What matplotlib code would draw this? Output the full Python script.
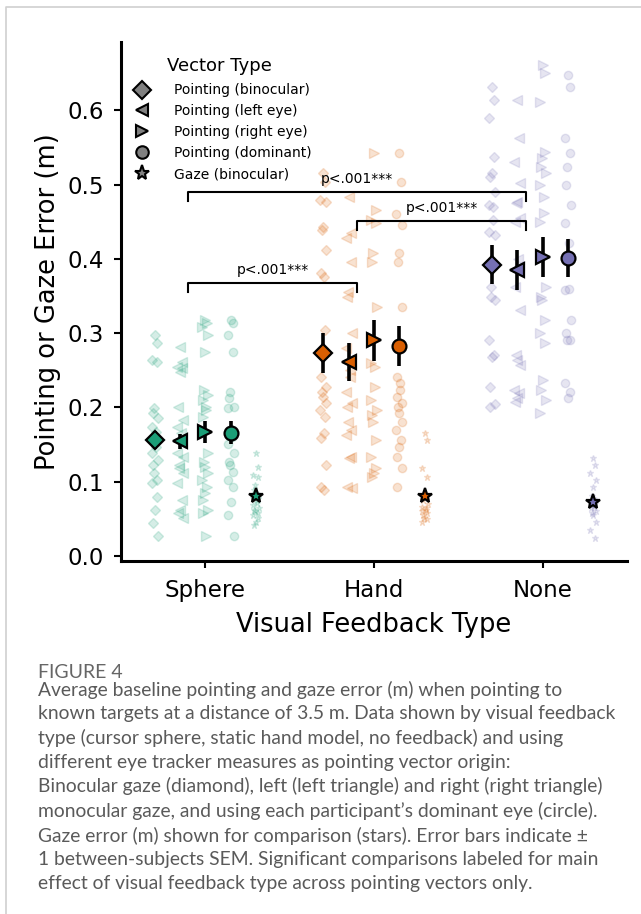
import numpy as np
import matplotlib.pyplot as plt
from matplotlib.lines import Line2D

plt.rcParams['font.family'] = 'DejaVu Sans'

# ---- data ----
feedback = ['Sphere', 'Hand', 'None']
vectors = ['Pointing (binocular)', 'Pointing (left eye)', 'Pointing (right eye)',
           'Pointing (dominant)', 'Gaze (binocular)']

# individual participants, one list per vector type
sphere_pts = [
    [0.297, 0.287, 0.264, 0.261, 0.199, 0.192, 0.186, 0.174, 0.167, 0.147, 0.139, 0.129, 0.122, 0.112, 0.102, 0.098, 0.079, 0.062, 0.044, 0.026],
    [0.281, 0.261, 0.254, 0.253, 0.248, 0.201, 0.183, 0.174, 0.165, 0.152, 0.139, 0.133, 0.122, 0.118, 0.112, 0.098, 0.075, 0.062, 0.058, 0.051],
    [0.318, 0.313, 0.308, 0.297, 0.275, 0.223, 0.217, 0.210, 0.201, 0.196, 0.187, 0.139, 0.127, 0.120, 0.112, 0.102, 0.093, 0.085, 0.075, 0.062, 0.058, 0.026],
    [0.318, 0.313, 0.297, 0.275, 0.221, 0.213, 0.201, 0.199, 0.170, 0.160, 0.150, 0.139, 0.127, 0.122, 0.113, 0.102, 0.093, 0.073, 0.055, 0.026],
    [0.139, 0.120, 0.109, 0.106, 0.095, 0.088, 0.082, 0.078, 0.075, 0.071, 0.068, 0.065, 0.062, 0.060, 0.058, 0.055, 0.051, 0.046, 0.042],
]
hand_pts = [
    [0.515, 0.503, 0.479, 0.476, 0.443, 0.439, 0.412, 0.381, 0.376, 0.304, 0.241, 0.227, 0.221, 0.214, 0.206, 0.196, 0.187, 0.166, 0.159, 0.122, 0.093, 0.089],
    [0.483, 0.435, 0.428, 0.396, 0.355, 0.349, 0.300, 0.280, 0.250, 0.241, 0.220, 0.206, 0.201, 0.180, 0.170, 0.163, 0.133, 0.132, 0.093, 0.091],
    [0.542, 0.466, 0.452, 0.448, 0.408, 0.396, 0.335, 0.260, 0.254, 0.227, 0.210, 0.196, 0.190, 0.180, 0.156, 0.133, 0.118, 0.112, 0.106],
    [0.542, 0.503, 0.461, 0.445, 0.408, 0.396, 0.335, 0.241, 0.233, 0.223, 0.214, 0.206, 0.201, 0.192, 0.180, 0.170, 0.156, 0.147, 0.133, 0.118, 0.093],
    [0.166, 0.156, 0.118, 0.106, 0.080, 0.075, 0.070, 0.066, 0.065, 0.062, 0.060, 0.058, 0.055, 0.051, 0.050, 0.046],
]
none_pts = [
    [0.631, 0.614, 0.590, 0.537, 0.515, 0.510, 0.490, 0.472, 0.470, 0.452, 0.436, 0.432, 0.362, 0.349, 0.345, 0.291, 0.271, 0.268, 0.227, 0.205, 0.201],
    [0.614, 0.563, 0.531, 0.502, 0.477, 0.475, 0.455, 0.450, 0.400, 0.390, 0.362, 0.331, 0.271, 0.264, 0.257, 0.223, 0.219, 0.213, 0.207],
    [0.661, 0.650, 0.611, 0.544, 0.536, 0.524, 0.515, 0.499, 0.483, 0.462, 0.450, 0.362, 0.349, 0.345, 0.318, 0.300, 0.287, 0.237, 0.223, 0.210, 0.192],
    [0.647, 0.631, 0.563, 0.542, 0.524, 0.499, 0.472, 0.448, 0.421, 0.360, 0.358, 0.318, 0.300, 0.291, 0.290, 0.233, 0.221, 0.213],
    [0.132, 0.122, 0.112, 0.102, 0.093, 0.080, 0.075, 0.070, 0.068, 0.066, 0.065, 0.060, 0.058, 0.055, 0.046, 0.035, 0.024],
]

# group means and SEM
sphere_mean = [0.156, 0.154, 0.167, 0.166, 0.080]
hand_mean = [0.273, 0.261, 0.290, 0.282, 0.080]
none_mean = [0.392, 0.385, 0.403, 0.401, 0.073]
sphere_sem = [0.012, 0.010, 0.015, 0.015, 0.005]
hand_sem = [0.027, 0.025, 0.027, 0.027, 0.005]
none_sem = [0.026, 0.027, 0.027, 0.026, 0.005]

# significance brackets: (group a, group b, height)
sig_pairs = [(0, 1, 0.367), (0, 2, 0.490), (1, 2, 0.451)]
sig_label = 'p<.001***'

caption_head = 'FIGURE 4'
caption = ("Average baseline pointing and gaze error (m) when pointing to\n"
           "known targets at a distance of 3.5 m. Data shown by visual feedback\n"
           "type (cursor sphere, static hand model, no feedback) and using\n"
           "different eye tracker measures as pointing vector origin:\n"
           "Binocular gaze (diamond), left (left triangle) and right (right triangle)\n"
           "monocular gaze, and using each participant\u2019s dominant eye (circle).\n"
           "Gaze error (m) shown for comparison (stars). Error bars indicate \u00b1\n"
           "1 between-subjects SEM. Significant comparisons labeled for main\n"
           "effect of visual feedback type across pointing vectors only.")

# ---- style ----
colors = ['#1b9e77', '#d95f02', '#7570b3']
markers = ['D', '<', '>', 'o', '*']
pt_size = [5.5, 6.5, 6.5, 6.0, 5.0]
mean_size = [9, 10, 10, 10, 11]
leg_size = [9, 8.5, 8.5, 9, 11]
offsets = [-0.3, -0.15, 0.0, 0.15, 0.3]

fig = plt.figure(figsize=(6.41, 9.14), dpi=100)
ax = fig.add_axes([121/641, 1-561/914, 506/641, 519/914])

all_pts = [sphere_pts, hand_pts, none_pts]
all_mean = [sphere_mean, hand_mean, none_mean]
all_sem = [sphere_sem, hand_sem, none_sem]

for g in range(3):
    for v in range(5):
        y = np.array(all_pts[g][v])
        n = len(y)
        jit = 0.018*np.sin(np.arange(n)*2.4)
        x = g + offsets[v] + jit
        ax.plot(x, y, ls='none', marker=markers[v], ms=pt_size[v],
                mfc=colors[g], mec=colors[g], mew=1.0, alpha=0.18, zorder=1)
    for v in range(5):
        ax.errorbar(g + offsets[v], all_mean[g][v], yerr=all_sem[g][v],
                    fmt=markers[v], ms=mean_size[v], mfc=colors[g], mec='k',
                    mew=1.6, ecolor='k', elinewidth=2.6, capsize=0, zorder=5)

# brackets
for a, b, h in sig_pairs:
    x1, x2 = a - 0.1, b - 0.1
    ax.plot([x1, x1, x2, x2], [h-0.012, h, h, h-0.012], color='k', lw=1.5, zorder=6)
    ax.text((x1+x2)/2, h+0.008, sig_label, ha='center', va='bottom', fontsize=10, zorder=6)

ax.set_xlim(-0.5, 2.5)
ax.set_ylim(-0.007, 0.692)
ax.set_xticks([0, 1, 2])
ax.set_xticklabels(feedback)
ax.set_yticks([0.0, 0.1, 0.2, 0.3, 0.4, 0.5, 0.6])
ax.set_yticklabels(['0.0', '0.1', '0.2', '0.3', '0.4', '0.5', '0.6'])
ax.tick_params(labelsize=16.5, width=1.5, length=5)
ax.tick_params(axis='y', pad=7)
ax.tick_params(axis='x', pad=8)
ax.set_xlabel('Visual Feedback Type', fontsize=18.5, labelpad=7)
ax.set_ylabel('Pointing or Gaze Error (m)', fontsize=18.5, labelpad=5)
for s in ['top', 'right']:
    ax.spines[s].set_visible(False)
for s in ['left', 'bottom']:
    ax.spines[s].set_linewidth(2.2)

handles = [Line2D([], [], ls='none', marker=markers[v], ms=leg_size[v],
                  mfc='#808080', mec='k', mew=1.5) for v in range(5)]
leg = ax.legend(handles, vectors, title='Vector Type', loc='upper left',
                bbox_to_anchor=(0.014, 0.971), frameon=False, fontsize=10,
                title_fontsize=13, borderpad=0, borderaxespad=0,
                handlelength=2.0, handletextpad=1.3, labelspacing=0.5)
leg._legend_box.sep = 6

# page decoration: thin border + caption
fig.add_artist(Line2D([6/641, 6/641, 1], [0, 1-7/914, 1-7/914],
                      transform=fig.transFigure, color='#d0d0d0', lw=1.2))
fig.text(38/641, 1-672/914, caption_head, fontsize=14, color='#666666',
         family=['Lato', 'DejaVu Sans'], va='center', ha='left')
fig.text(38/641, 1-681/914, caption, fontsize=13.9, color='#5a5a5a',
         family=['Lato', 'DejaVu Sans'], va='top', ha='left', linespacing=1.45)

fig.savefig('out.png', dpi=100)
